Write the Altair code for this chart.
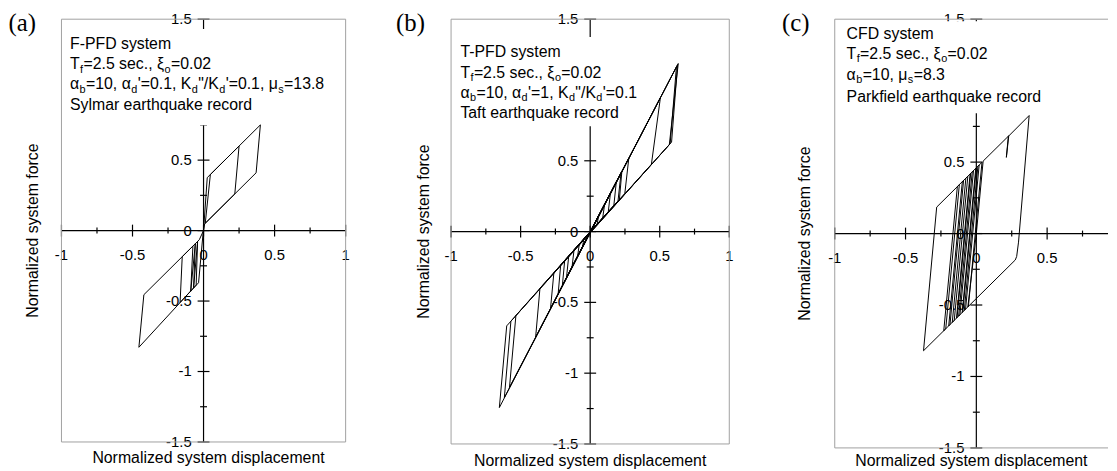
import altair as alt
import pandas as pd

# ---------------- data ----------------
# (a) F-PFD system, Sylmar record: normalized displacement / force path
a_disp = [0.0, 0.026, 0.25, 0.22, 0.012, 0.048, 0.40, 0.37, 0.008, -0.002, -0.035,
          -0.165, -0.15, -0.075, -0.09, -0.058, -0.07, -0.042, -0.052, -0.455, -0.42,
          -0.03, 0.0]
a_force = [0.0, 0.376, 0.60, 0.26, 0.052, 0.398, 0.75, 0.41, 0.048, -0.005, -0.37,
           -0.51, -0.185, -0.11, -0.43, -0.093, -0.407, -0.077, -0.387, -0.828, -0.455,
           -0.065, 0.0]

# (b) T-PFD system, Taft record
b_disp = [0.0, 0.05, 0.062, -0.055, -0.045, 0.09, 0.104, -0.09, -0.078, 0.13, 0.146,
          -0.13, -0.116, 0.17, 0.188, -0.17, -0.154, 0.21, 0.228, -0.2, -0.183, 0.249,
          0.278, -0.23, -0.212, 0.2, 0.222, -0.285, -0.261, 0.44, 0.505, -0.392, -0.361,
          0.569, 0.633, -0.617, -0.57, 0.575, 0.62, -0.653, -0.60, 0.585, 0.628, -0.58,
          -0.534, 0.0]
b_force = [0.0, 0.054, 0.116, -0.105, -0.05, 0.097, 0.195, -0.171, -0.087, 0.14, 0.274,
           -0.247, -0.129, 0.184, 0.353, -0.323, -0.171, 0.227, 0.428, -0.38, -0.203, 0.269,
           0.521, -0.437, -0.235, 0.216, 0.416, -0.542, -0.29, 0.475, 0.947, -0.745, -0.40,
           0.614, 1.187, -1.173, -0.633, 0.621, 1.163, -1.243, -0.666, 0.632, 1.178, -1.10,
           -0.593, 0.0]

# (c) CFD system, Parkfield record
c_disp = [0.0, 0.048, 0.229, 0.212, 0.226, 0.373, 0.298, 0.285, 0.275, -0.373, -0.28,
          -0.12, -0.216, -0.23, -0.134, -0.09, -0.186, -0.195, -0.099, -0.06, -0.156,
          -0.17, -0.074, -0.04, -0.136, -0.14, -0.044, -0.02, -0.116, -0.125, -0.029,
          0.0, -0.096, -0.1, -0.004, 0.02, -0.076, -0.085, 0.011, 0.04, -0.056, -0.06, 0.0]
c_force = [0.0, 0.507, 0.684, 0.533, 0.68, 0.826, -0.06, -0.16, -0.185, -0.82, 0.185,
           0.342, -0.667, -0.68, 0.329, 0.372, -0.637, -0.646, 0.363, 0.401, -0.608,
           -0.622, 0.387, 0.421, -0.588, -0.592, 0.417, 0.44, -0.569, -0.578, 0.432,
           0.46, -0.549, -0.553, 0.456, 0.48, -0.529, -0.538, 0.47, 0.499, -0.51, -0.514, 0.0]

x_major = [-1, -0.5, 0, 0.5, 1]
x_major_labels = ["-1", "-0.5", "0", "0.5", "1"]
x_minor = [-0.75, -0.25, 0.25, 0.75]
y_major = [-1.5, -1, -0.5, 0, 0.5, 1, 1.5]
y_major_labels = ["-1.5", "-1", "-0.5", "0", "0.5", "1", "1.5"]
y_minor = [-1.25, -0.75, -0.25, 0.25, 0.75, 1.25]

panel_tags = ["(a)", "(b)", "(c)"]
system_names = ["F-PFD system", "T-PFD system", "CFD system"]
records = ["Sylmar earthquake record", "Taft earthquake record", "Parkfield earthquake record"]
x_title = "Normalized system displacement"
y_title = "Normalized system force"

# parameter lines: (text, is_subscript)
line_period = [("T", 0), ("f", 1), ("=2.5 sec., \u03be", 0), ("o", 1), ("=0.02", 0)]
a_params = [("\u03b1", 0), ("b", 1), ("=10, \u03b1", 0), ("d", 1), ("'=0.1, K", 0), ("d", 1),
            ('"/K', 0), ("d", 1), ("'=0.1, \u03bc", 0), ("s", 1), ("=13.8", 0)]
b_params = [("\u03b1", 0), ("b", 1), ("=10, \u03b1", 0), ("d", 1), ("'=1, K", 0), ("d", 1),
            ('"/K', 0), ("d", 1), ("'=0.1", 0)]
c_params = [("\u03b1", 0), ("b", 1), ("=10, \u03bc", 0), ("s", 1), ("=8.3", 0)]

# ---------------- styling ----------------
SANS = "Liberation Sans"
SERIF = "Liberation Serif"
FRAME = "#a0a0a0"
TXT = 16
SUB = 11
ONE = pd.DataFrame({"k": [0]})

# Arial/Liberation Sans advance widths (per 1000 em) for laying out subscripts
CW = {" ": 278, '"': 355, "'": 191, ",": 278, "-": 333, ".": 278, "/": 278, "=": 584,
      "K": 667, "T": 611, "b": 556, "c": 500, "d": 556, "e": 556, "f": 278, "o": 556,
      "s": 500, "\u03b1": 578, "\u03be": 447, "\u03bc": 577}
for dch in "0123456789":
    CW[dch] = 556


def tw(s, size):
    return sum(CW.get(ch, 556) for ch in s) * size / 1000.0


def text_at(x, y, s, size=TXT, font=SANS, align="left", baseline="alphabetic", angle=0):
    kw = dict(align=align, baseline=baseline, font=font, fontSize=size, color="black")
    if angle:
        kw["angle"] = angle
    return alt.Chart(ONE).mark_text(**kw).encode(
        x=alt.value(x), y=alt.value(y), text=alt.value(s))


def rich_line(segs, x0, y):
    out = []
    x = x0
    for s, sub in segs:
        size = SUB if sub else TXT
        out.append(text_at(x, y + (3.5 if sub else 0), s, size=size))
        x += tw(s, size) + 0.4
    return out


def panel(i, disp, force, params, w, h, xmax, tx, ty, box, xt_dx, yt_x, tag_x, full_frame):
    xs = alt.Scale(domain=[-1, xmax], nice=False, zero=False)
    ys = alt.Scale(domain=[-1.5, 1.5], nice=False, zero=False)

    def X(**k):
        return alt.X(type="quantitative", scale=xs, axis=None, **k)

    def Y(**k):
        return alt.Y(type="quantitative", scale=ys, axis=None, **k)

    def hrule(x1, x2, yv, color, sw):
        return alt.Chart(ONE).mark_rule(color=color, strokeWidth=sw).encode(
            x=X(datum=x1), x2=alt.X2(datum=x2), y=Y(datum=yv))

    def vrule(xv, y1, y2, color, sw):
        return alt.Chart(ONE).mark_rule(color=color, strokeWidth=sw).encode(
            x=X(datum=xv), y=Y(datum=y1), y2=alt.Y2(datum=y2))

    xm = pd.DataFrame({"v": [v for v in x_major if v <= xmax],
                       "t": [t for v, t in zip(x_major, x_major_labels) if v <= xmax]})
    xn = pd.DataFrame({"v": [v for v in x_minor if v <= xmax]})
    ym = pd.DataFrame({"v": y_major, "t": y_major_labels})
    yn = pd.DataFrame({"v": y_minor})

    layers = [
        hrule(-1, xmax, 0, "black", 1.2),
        vrule(0, -1.5, 1.5, "black", 1.2),
        alt.Chart(xm).mark_rule(color="black", strokeWidth=1.2, yOffset=-6, y2Offset=6).encode(
            x=X(field="v"), y=Y(datum=0), y2=alt.Y2(datum=0)),
        alt.Chart(xn).mark_rule(color="black", strokeWidth=1.2, yOffset=-3, y2Offset=3).encode(
            x=X(field="v"), y=Y(datum=0), y2=alt.Y2(datum=0)),
        alt.Chart(ym).mark_rule(color="black", strokeWidth=1.2, xOffset=-6, x2Offset=6).encode(
            y=Y(field="v"), x=X(datum=0), x2=alt.X2(datum=0)),
        alt.Chart(yn).mark_rule(color="black", strokeWidth=1.2, xOffset=-3.5, x2Offset=3.5).encode(
            y=Y(field="v"), x=X(datum=0), x2=alt.X2(datum=0)),
        alt.Chart(xm).mark_text(font=SANS, fontSize=15, baseline="alphabetic", align="center",
                                dy=29.5, color="black").encode(
            x=X(field="v"), y=Y(datum=0), text="t:N"),
        alt.Chart(ym).mark_text(font=SANS, fontSize=15, baseline="middle", align="right",
                                dx=-12, color="black").encode(
            y=Y(field="v"), x=X(datum=0), text="t:N"),
        # white background of the annotation block
        alt.Chart(ONE).mark_rect(color="white").encode(
            x=alt.value(box[0]), x2=alt.value(box[1]), y=alt.value(box[2]), y2=alt.value(box[3])),
        # frame
        hrule(-1, xmax, 1.5, FRAME, 1),
        hrule(-1, xmax, -1.5, FRAME, 1),
        vrule(-1, -1.5, 1.5, FRAME, 1),
    ]
    if full_frame:
        layers.append(vrule(1, -1.5, 1.5, FRAME, 1))

    loop = pd.DataFrame({"d": disp, "f": force, "i": list(range(len(disp)))})
    layers.append(alt.Chart(loop).mark_line(color="black", strokeWidth=1).encode(
        x=X(field="d"), y=Y(field="f"), order="i:Q"))

    layers.append(text_at(tx, ty[0], system_names[i]))
    layers += rich_line(line_period, tx, ty[1])
    layers += rich_line(params, tx, ty[2])
    layers.append(text_at(tx, ty[3], records[i]))

    layers.append(text_at(tag_x, 11.5, panel_tags[i], size=25, font=SERIF))
    layers.append(text_at(w / 2 + xt_dx[0], h + xt_dx[1], x_title, align="center"))
    layers.append(text_at(yt_x, h / 2, y_title, align="center", angle=270))

    return alt.layer(*layers).properties(width=w, height=h)


pa = panel(0, a_disp, a_force, a_params, 287, 427, 1, 8.6, [30, 50.5, 71, 92],
           (1, 270, 10, 107), (5, 21), -24, -53.5, True)
pb = panel(1, b_disp, b_force, b_params, 281, 429, 1, 9.4, [38.3, 59, 79.3, 100],
           (1, 196, 18, 108), (0, 22), -22, -55.5, True)
pc = panel(2, c_disp, c_force, c_params, 276, 433, 0.93, 12, [20, 40, 61, 83.3],
           (1, 220, 2, 95), (0, 18), -25, -53.3, False)

chart = alt.hconcat(pa, pb, pc, spacing=106.5, bounds="flush").properties(
    padding={"left": 0, "top": 0, "right": 0, "bottom": 0}
).configure_view(strokeWidth=0)

chart.save("out.html", embed_options={"renderer": "svg", "actions": False})
